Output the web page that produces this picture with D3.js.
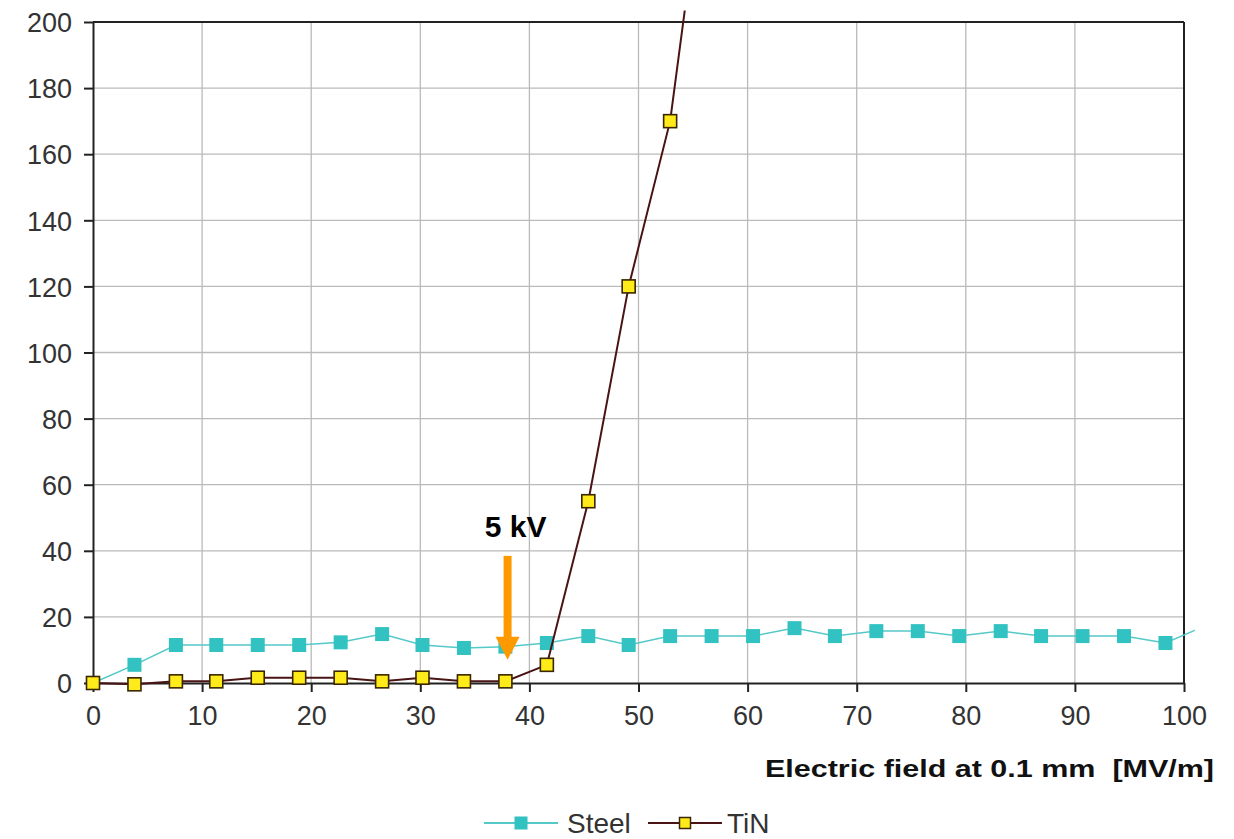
<!DOCTYPE html>
<html>
<head>
<meta charset="utf-8">
<script src="https://cdn.jsdelivr.net/npm/d3@7"></script>
<style>
  body { margin: 0; background: #fff; }
  svg { display: block; font-family: "Liberation Sans", Arial, sans-serif; }
</style>
</head>
<body>
<div id="chart"></div>
<script>
// Electric field values of each measurement [MV/m]
const fieldValues = [0, 3.8, 7.6, 11.3, 15.1, 18.9, 22.7, 26.5, 30.2, 34.0, 37.8, 41.6, 45.4, 49.1,
  52.9, 56.7, 60.5, 64.3, 68.0, 71.8, 75.6, 79.4, 83.2, 86.9, 90.7, 94.5, 98.3, 102.1];
const steelValues = [0, 5.5, 11.5, 11.5, 11.5, 11.5, 12.3, 14.8, 11.5, 10.6, 11.0, 12.1, 14.2, 11.5,
  14.2, 14.2, 14.2, 16.6, 14.2, 15.7, 15.7, 14.2, 15.7, 14.2, 14.2, 14.2, 12.1, 17.5];
const tinValues = [0, -0.4, 0.5, 0.5, 1.6, 1.6, 1.6, 0.5, 1.6, 0.5, 0.5, 5.5, 55, 120, 170, 265];
const xTicks = [0, 10, 20, 30, 40, 50, 60, 70, 80, 90, 100];
const yTicks = [0, 20, 40, 60, 80, 100, 120, 140, 160, 180, 200];
const seriesNames = ["Steel", "TiN"];
const annotation = {label: "5 kV", x: 38, y: 7};

const width = 1234, height = 839;
const plot = {left: 93, right: 1184, top: 22, bottom: 683};
const colours = {steel: "#33c2c2", steelLine: "#55c8c8", tin: "#ffea1a", tinEdge: "#3a2600",
  tinLine: "#4a1414", grid: "#bababa", text: "#333", arrow: "#ff9900"};

const svg = d3.select("#chart").append("svg")
  .attr("width", width)
  .attr("height", height);

const x = d3.scaleLinear().domain([0, 100]).range([plot.left, plot.right]);
const y = d3.scaleLinear().domain([0, 200]).range([plot.bottom, plot.top]);

// Grid lines
svg.append("g")
  .selectAll("line")
  .data(xTicks.slice(1, -1))
  .join("line")
    .attr("x1", d => x(d)).attr("x2", d => x(d))
    .attr("y1", plot.top).attr("y2", plot.bottom)
    .attr("stroke", colours.grid).attr("stroke-width", 1.3);
svg.append("g")
  .selectAll("line")
  .data(yTicks.slice(1, -1))
  .join("line")
    .attr("x1", plot.left).attr("x2", plot.right)
    .attr("y1", d => y(d)).attr("y2", d => y(d))
    .attr("stroke", colours.grid).attr("stroke-width", 1.3);

// Frame top and right
svg.append("line")
  .attr("x1", plot.left).attr("x2", plot.right)
  .attr("y1", plot.top).attr("y2", plot.top)
  .attr("stroke", "#222").attr("stroke-width", 2);
svg.append("line")
  .attr("x1", plot.right).attr("x2", plot.right)
  .attr("y1", plot.top).attr("y2", plot.bottom)
  .attr("stroke", "#222").attr("stroke-width", 2);

// Axes
const yAxis = svg.append("g")
  .attr("transform", `translate(${plot.left},0)`)
  .call(d3.axisLeft(y).tickValues(yTicks).tickSize(9).tickPadding(12).tickSizeOuter(0));
const xAxis = svg.append("g")
  .attr("transform", `translate(0,${plot.bottom})`)
  .call(d3.axisBottom(x).tickValues(xTicks).tickSize(9).tickPadding(14).tickSizeOuter(0));

[xAxis, yAxis].forEach(ax => {
  ax.select(".domain").attr("stroke", "#222").attr("stroke-width", 2);
  ax.selectAll(".tick line").attr("stroke", "#222").attr("stroke-width", 2);
  ax.selectAll(".tick text")
    .attr("fill", colours.text)
    .style("font-size", "27px")
    .style("font-family", "'Liberation Sans', Arial, sans-serif");
});
yAxis.selectAll(".tick text").attr("dy", "0.36em");

// Axis title (stretched wide, like the original)
svg.append("text")
  .text("Electric field at 0.1 mm  [MV/m]")
  .attr("x", 765)
  .attr("y", 777)
  .attr("textLength", 449)
  .attr("lengthAdjust", "spacingAndGlyphs")
  .attr("fill", "#111")
  .style("font-size", "24px")
  .style("font-weight", "bold")
  .style("white-space", "pre");

// Lines run a little past the frame, as in the original
svg.append("clipPath").attr("id", "clip")
  .append("rect")
    .attr("x", plot.left - 10)
    .attr("y", y(203.5))
    .attr("width", x(101) - plot.left + 10)
    .attr("height", plot.bottom - y(203.5) + 20);

const steel = steelValues.map((v, i) => [fieldValues[i], v]);
const tin = tinValues.map((v, i) => [fieldValues[i], v]);
const line = d3.line().x(d => x(d[0])).y(d => y(d[1]));

const series = svg.append("g").attr("clip-path", "url(#clip)");

series.append("path")
  .datum(steel)
  .attr("d", line)
  .attr("fill", "none")
  .attr("stroke", colours.steelLine)
  .attr("stroke-width", 1.5);

series.append("g")
  .selectAll("rect")
  .data(steel.filter(d => d[0] <= 100))
  .join("rect")
    .attr("x", d => x(d[0]) - 7)
    .attr("y", d => y(d[1]) - 7)
    .attr("width", 14)
    .attr("height", 14)
    .attr("fill", colours.steel);

series.append("path")
  .datum(tin)
  .attr("d", line)
  .attr("fill", "none")
  .attr("stroke", colours.tinLine)
  .attr("stroke-width", 2);

series.append("g")
  .selectAll("rect")
  .data(tin.filter(d => d[1] <= 200))
  .join("rect")
    .attr("x", d => x(d[0]) - 6.5)
    .attr("y", d => y(d[1]) - 6.5)
    .attr("width", 13)
    .attr("height", 13)
    .attr("fill", colours.tin)
    .attr("stroke", colours.tinEdge)
    .attr("stroke-width", 1.6);

// Annotation arrow and label
const ax = x(annotation.x), tipY = y(annotation.y);
svg.append("rect")
  .attr("x", ax - 4)
  .attr("y", tipY - 104)
  .attr("width", 8)
  .attr("height", 82)
  .attr("fill", colours.arrow);
svg.append("path")
  .attr("d", d3.line()([[ax - 12, tipY - 23], [ax + 12, tipY - 23], [ax, tipY]]))
  .attr("fill", colours.arrow);
svg.append("text")
  .text(annotation.label)
  .attr("x", ax + 8)
  .attr("y", tipY - 123)
  .attr("text-anchor", "middle")
  .attr("fill", "#000")
  .style("font-size", "30px")
  .style("font-weight", "bold");

// Legend
const legend = svg.append("g").attr("transform", "translate(0,823)");
const legItems = [
  {name: seriesNames[0], x0: 484, x1: 558, fill: colours.steel, stroke: "none", line: colours.steelLine, size: 13, tx: 567},
  {name: seriesNames[1], x0: 648, x1: 722, fill: colours.tin, stroke: colours.tinEdge, line: colours.tinLine, size: 11, tx: 727}
];
const legEl = legend.selectAll("g").data(legItems).join("g");
legEl.append("line")
  .attr("x1", d => d.x0).attr("x2", d => d.x1)
  .attr("y1", 0).attr("y2", 0)
  .attr("stroke", d => d.line)
  .attr("stroke-width", 1.8);
legEl.append("rect")
  .attr("x", d => (d.x0 + d.x1) / 2 - d.size / 2)
  .attr("y", d => -d.size / 2)
  .attr("width", d => d.size)
  .attr("height", d => d.size)
  .attr("fill", d => d.fill)
  .attr("stroke", d => d.stroke)
  .attr("stroke-width", 1.5);
legEl.append("text")
  .text(d => d.name)
  .attr("x", d => d.tx)
  .attr("y", 10)
  .attr("fill", colours.text)
  .style("font-size", "28px");
</script>
</body>
</html>
